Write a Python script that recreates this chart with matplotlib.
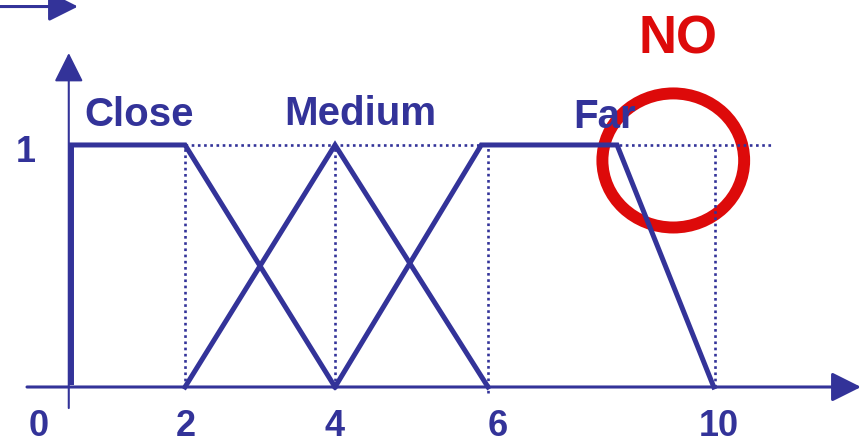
import matplotlib.pyplot as plt
from matplotlib.patches import Ellipse

# membership functions (x read off the picture, not evenly spaced on the page)
close_x = [0.48, 0.48, 2, 4]
close_y = [0.01, 1, 1, 0]
medium_x = [2, 4, 6.04]
medium_y = [0, 1, 0]
far_x = [4, 5.95, 7.76, 9.05]
far_y = [0, 1, 1, 0]

guide_x = [2, 4, 6.04, 9.07]
tick_pos = [0.05, 2.01, 4.0, 6.17, 9.12]
tick_labels = ['0', '2', '4', '6', '10']
set_names = ['Close', 'Medium', 'Far']
set_label_x = [1.39, 4.34, 7.6]
set_label_y = [1.078, 1.083, 1.07]

blue = '#333399'
red = '#dd0a0a'
font = 'Liberation Sans'

fig = plt.figure(figsize=(8.61, 4.43), dpi=100)
ax = fig.add_axes([0, 0, 1, 1])
ax.set_xlim(-0.467, 11.013)
ax.set_ylim(-0.2314, 1.599)
ax.axis('off')

# dotted guides
dots = dict(color=blue, lw=1.9, dashes=(1, 1.35))
ax.plot([2, 9.84], [1, 1], **dots)
for gx in guide_x:
    bottom = -0.025 if gx == 6.04 else 0
    ax.plot([gx, gx], [bottom, 1], **dots)

# axes with arrows
arrow = dict(arrowstyle='-|>', mutation_scale=45, color=blue, shrinkA=0, shrinkB=0)
ax.annotate('', xy=(11.013, 0), xytext=(-0.107, 0), arrowprops=dict(arrow, lw=2.2))
ax.annotate('', xy=(0.45, 1.38), xytext=(0.45, -0.087), arrowprops=dict(arrow, lw=1.5))
ax.annotate('', xy=(0.573, 1.572), xytext=(-0.467, 1.572), arrowprops=dict(arrow, lw=2.2))

# membership lines
ax.plot(close_x[:2], close_y[:2], color=blue, lw=4.3, solid_capstyle='butt')
ax.plot(close_x[1:], close_y[1:], color=blue, lw=3.6, solid_joinstyle='miter')
ax.plot(medium_x, medium_y, color=blue, lw=3.6, solid_joinstyle='miter')
ax.plot(far_x, far_y, color=blue, lw=3.6, solid_joinstyle='miter')

for name, lx, ly in zip(set_names, set_label_x, set_label_y):
    ax.text(lx, ly, name, color=blue, fontsize=29, fontweight='bold',
            family=font, ha='center', va='baseline')

for p, lab in zip(tick_pos, tick_labels):
    ax.text(p, -0.165, lab, color=blue, fontsize=26, fontweight='bold',
            family=font, ha='center', va='center')
ax.text(-0.13, 0.968, '1', color=blue, fontsize=26, fontweight='bold',
        family=font, ha='center', va='center')

# red "NO" mark
ax.add_patch(Ellipse((8.51, 0.936), 1.89, 0.554, fill=False, ec=red, lw=8.6))
ax.text(8.57, 1.38, 'NO', color=red, fontsize=38, fontweight='bold',
        family=font, ha='center', va='baseline')

fig.savefig('out.png', dpi=100)
